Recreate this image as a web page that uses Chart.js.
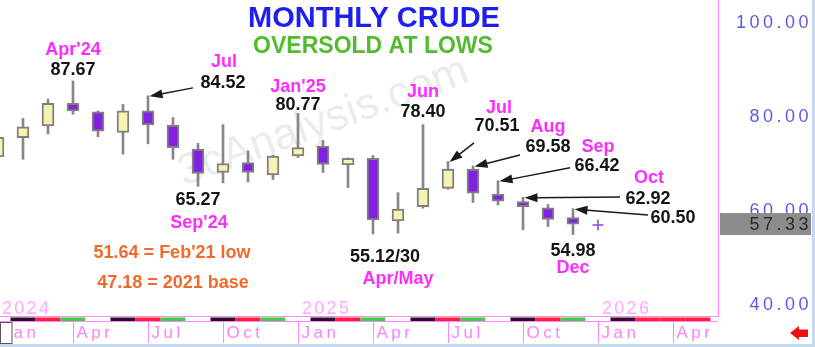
<!DOCTYPE html>
<html>
<head>
<meta charset="utf-8">
<script src="https://cdn.jsdelivr.net/npm/chart.js@4.4.1/dist/chart.umd.min.js"></script>
<style>
  html, body { margin: 0; padding: 0; background: #fff; }
</style>
</head>
<body>
<canvas id="crudeChart" width="815" height="347"></canvas>
<script>
// monthly candles, index 0 = Jan'24
const months = ["Jan'24","Feb'24","Mar'24","Apr'24","May'24","Jun'24","Jul'24","Aug'24","Sep'24","Oct'24","Nov'24","Dec'24",
                "Jan'25","Feb'25","Mar'25","Apr'25","May'25","Jun'25","Jul'25","Aug'25","Sep'25","Oct'25","Nov'25","Dec'25"];
const opens  = [71.5, 75.6, 78.1, 82.9, 81.1, 76.7, 81.3, 78.3, 73.2, 68.2, 70.3, 67.7,
                71.7, 73.8, 69.8, 71.2, 57.9, 60.9, 64.8, 68.9, 63.6, 62.0, 60.7, 58.6];
const highs  = [79.3, 79.7, 83.8, 87.67, 81.3, 82.7, 84.52, 79.9, 74.4, 78.4, 72.8, 71.9,
                80.77, 75.0, 71.3, 71.8, 63.9, 78.40, 70.51, 69.58, 66.42, 62.92, 61.4, 60.50];
const lows   = [69.3, 71.0, 76.4, 80.6, 75.8, 72.1, 74.3, 71.0, 65.27, 66.0, 66.2, 66.7,
                71.4, 68.2, 65.0, 55.12, 55.30, 60.6, 64.6, 61.8, 61.3, 56.0, 56.7, 54.98];
const closes = [75.7, 77.9, 82.9, 81.3, 77.0, 81.3, 78.3, 73.5, 68.0, 70.1, 68.2, 71.7,
                73.5, 69.9, 71.2, 58.1, 60.4, 64.8, 68.9, 63.8, 62.1, 60.9, 58.2, 57.2];
const lastPrice = 57.33;
const janMark = 57.0;   // Jan'26 so far
const yTicks = [40, 60, 80, 100];
const quarterNames = ['Jan', 'Apr', 'Jul', 'Oct'];
const yearNames = ['2024', '2025', '2026'];
// coloured band under the plot, one code per month (k black, r red, g green, w white)
const bandCodes = ['w','k','r','g','w','k','r','g','w','k','r','g','w','k','r','g','w','k','r','g','w','k','r','g','w','k','r','r','r'];

const PINK = '#ff2cff', INK = '#141414', ORANGE = '#f26a2a';
const notes = [
  { t: "Apr'24", m: 3, v: 93.2, c: PINK },
  { t: '87.67', m: 3, v: 88.9, c: INK },
  { t: 'Jul', m: 9.04, v: 90.7, c: PINK },
  { t: '84.52', m: 9.0, v: 86.2, c: INK },
  { t: '65.27', m: 8, v: 61.3, c: INK },
  { t: "Sep'24", m: 8.04, v: 56.4, c: PINK },
  { t: "Jan'25", m: 12, v: 85.3, c: PINK },
  { t: '80.77', m: 12, v: 81.5, c: INK },
  { t: 'Jun', m: 17, v: 84.3, c: PINK },
  { t: '78.40', m: 17, v: 80.0, c: INK },
  { t: 'Jul', m: 20.04, v: 80.9, c: PINK },
  { t: '70.51', m: 19.96, v: 77.0, c: INK },
  { t: 'Aug', m: 22, v: 76.8, c: PINK },
  { t: '69.58', m: 22, v: 72.6, c: INK },
  { t: 'Sep', m: 24, v: 72.6, c: PINK },
  { t: '66.42', m: 23.96, v: 68.5, c: INK },
  { t: 'Oct', m: 26.04, v: 66.0, c: PINK },
  { t: '62.92', m: 26, v: 61.5, c: INK },
  { t: '60.50', m: 27, v: 57.45, c: INK },
  { t: '54.98', m: 23, v: 50.4, c: INK },
  { t: 'Dec', m: 23, v: 46.8, c: PINK },
  { t: '55.12/30', m: 15.48, v: 49.15, c: INK },
  { t: 'Apr/May', m: 16, v: 44.5, c: PINK },
  { t: "51.64 = Feb'21 low", m: 6.96, v: 50.0, c: ORANGE },
  { t: '47.18 = 2021 base', m: 7.0, v: 43.6, c: ORANGE }
];
// arrows: start point (m, v) pointing to the high of month `to`
const arrows = [
  { m: 7.8, v: 86.2, to: 6 },
  { m: 19.04, v: 74.5, to: 18 },
  { m: 20.88, v: 71.9, to: 19 },
  { m: 22.88, v: 69.2, to: 20 },
  { m: 24.88, v: 63.0, to: 21 },
  { m: 26.0, v: 59.15, to: 23 }
];

const bodyColors = opens.map((o, i) => closes[i] >= o ? '#f7f3b0' : '#8420e6');

function drawArrow(ctx, x0, y0, x1, y1) {
  const ang = Math.atan2(y1 - y0, x1 - x0);
  const len = 13, wid = 4.5;
  ctx.beginPath();
  ctx.moveTo(x0, y0);
  ctx.lineTo(x1 - Math.cos(ang) * len * 0.8, y1 - Math.sin(ang) * len * 0.8);
  ctx.stroke();
  ctx.beginPath();
  ctx.moveTo(x1, y1);
  ctx.lineTo(x1 - Math.cos(ang) * len - Math.sin(ang) * wid, y1 - Math.sin(ang) * len + Math.cos(ang) * wid);
  ctx.lineTo(x1 - Math.cos(ang) * len + Math.sin(ang) * wid, y1 - Math.sin(ang) * len - Math.cos(ang) * wid);
  ctx.closePath();
  ctx.fill();
}

const decor = {
  id: 'decor',
  beforeDraw(chart) {
    const ctx = chart.ctx;
    ctx.save();
    ctx.fillStyle = '#fff';
    ctx.fillRect(0, 0, chart.width, chart.height);
    // watermark
    ctx.translate(184, 186);
    ctx.rotate(-20 * Math.PI / 180);
    ctx.fillStyle = '#ececec';
    ctx.font = '44px "Liberation Sans", Arial, sans-serif';
    ctx.fillText('3cAnalysis.com', 0, 0);
    ctx.restore();
    ctx.letterSpacing = '3.5px';
  },
  beforeDatasetsDraw(chart) {
    chart.ctx.letterSpacing = '0px';
  },
  afterDraw(chart) {
    const ctx = chart.ctx, a = chart.chartArea;
    const xs = chart.scales.x, ys = chart.scales.y;
    const px = m => xs.getPixelForValue(m), py = v => ys.getPixelForValue(v);
    ctx.save();

    // plot frame
    ctx.strokeStyle = '#ff88ff';
    ctx.lineWidth = 1;
    ctx.beginPath();
    ctx.moveTo(a.right + 0.5, 0); ctx.lineTo(a.right + 0.5, a.bottom + 1);
    ctx.moveTo(0, a.bottom + 0.5); ctx.lineTo(a.right + 1, a.bottom + 0.5);
    ctx.stroke();

    // coloured band
    const bandFill = { k: '#2a0f2a', r: '#ff1e3c', g: '#3cd23c', w: '#ffffff' };
    bandCodes.forEach((c, m) => {
      const x0 = Math.max(0, px(m - 0.5)), x1 = px(m + 0.5);
      ctx.fillStyle = bandFill[c];
      ctx.fillRect(x0, a.bottom + 1.5, x1 - x0, 3.5);
    });
    ctx.strokeStyle = '#ff88ff';
    ctx.beginPath();
    ctx.moveTo(0, a.bottom + 5.5); ctx.lineTo(a.right, a.bottom + 5.5);
    ctx.stroke();

    // quarter ticks and month names
    ctx.font = '17px "Liberation Sans", Arial, sans-serif';
    ctx.letterSpacing = '3.5px';
    ctx.textBaseline = 'alphabetic';
    ctx.textAlign = 'left';
    for (let m = 0; m <= 27; m += 3) {
      const x = Math.round(px(m)) + 0.5;
      ctx.strokeStyle = '#ff88ff';
      ctx.beginPath();
      ctx.moveTo(x, a.bottom + 6); ctx.lineTo(x, a.bottom + 27);
      ctx.stroke();
      ctx.fillStyle = '#ff80ff';
      ctx.fillText(quarterNames[(m / 3) % 4], x + 3, a.bottom + 22);
    }
    // small box at the left end
    ctx.fillStyle = '#fff';
    ctx.fillRect(0, a.bottom + 6, 12, 22);
    ctx.strokeStyle = '#555';
    ctx.strokeRect(0.5, a.bottom + 6.5, 11.5, 21);

    // year names
    ctx.font = '18px "Liberation Sans", Arial, sans-serif';
    ctx.letterSpacing = '2.3px';
    ctx.fillStyle = '#ffa8ff';
    yearNames.forEach((y, i) => ctx.fillText(y, px(i * 12) + 4, a.bottom - 2));
    ctx.letterSpacing = '0px';

    // titles
    ctx.textAlign = 'center';
    ctx.font = 'bold 29px "Liberation Sans", Arial, sans-serif';
    ctx.fillStyle = '#1e1ef0';
    ctx.fillText('MONTHLY CRUDE', 374, 27);
    ctx.font = 'bold 23px "Liberation Sans", Arial, sans-serif';
    ctx.fillStyle = '#52bc2c';
    ctx.fillText('OVERSOLD AT LOWS', 373, 53);

    // notes
    ctx.font = 'bold 18px "Liberation Sans", Arial, sans-serif';
    notes.forEach(n => {
      ctx.fillStyle = n.c;
      ctx.fillText(n.t, px(n.m), py(n.v));
    });

    // arrows
    ctx.strokeStyle = '#1a1a1a';
    ctx.fillStyle = '#1a1a1a';
    ctx.lineWidth = 1.5;
    arrows.forEach(r => drawArrow(ctx, px(r.m), py(r.v), px(r.to) + 1.5, py(highs[r.to]) + 0.5));

    // last price box
    const yl = py(lastPrice);
    ctx.fillStyle = '#8c8c8c';
    ctx.fillRect(a.right + 2, yl - 10.5, 811 - a.right - 2, 22);
    ctx.font = '18px "Liberation Sans", Arial, sans-serif';
    ctx.letterSpacing = '3.5px';
    ctx.textAlign = 'right';
    ctx.textBaseline = 'middle';
    ctx.fillStyle = '#2a2a2a';
    ctx.fillText(lastPrice.toFixed(2), 812, yl + 1);
    ctx.letterSpacing = '0px';

    // red arrow bottom right
    ctx.fillStyle = '#ee1111';
    ctx.beginPath();
    ctx.moveTo(790, 333);
    ctx.lineTo(799, 326);
    ctx.lineTo(799, 329.5);
    ctx.lineTo(808, 329.5);
    ctx.lineTo(808, 337);
    ctx.lineTo(799, 337);
    ctx.lineTo(799, 340);
    ctx.closePath();
    ctx.fill();

    // outer frame
    ctx.fillStyle = '#c6d8ee';
    ctx.fillRect(812, 0, 3, chart.height);
    ctx.fillRect(0, 344, chart.width, 3);
    ctx.restore();
  }
};

new Chart(document.getElementById('crudeChart'), {
  type: 'bar',
  data: {
    datasets: [
      {
        label: 'body',
        data: months.map((m, i) => ({ x: i, y: [opens[i], closes[i]] })),
        backgroundColor: bodyColors,
        borderColor: '#808080',
        borderWidth: 2,
        borderSkipped: false,
        barThickness: 12,
        grouped: false,
        order: 0
      },
      {
        label: 'wick',
        data: months.map((m, i) => ({ x: i, y: [lows[i], highs[i]] })),
        backgroundColor: '#878787',
        borderWidth: 0,
        barThickness: 2,
        grouped: false,
        order: 1
      },
      {
        type: 'line',
        label: 'jan',
        data: [{ x: months.length, y: janMark }],
        showLine: false,
        pointStyle: 'cross',
        pointRadius: 5.5,
        borderColor: '#9442e0',
        borderWidth: 1.5,
        order: 0
      }
    ]
  },
  options: {
    responsive: false,
    animation: false,
    devicePixelRatio: 1,
    layout: { autoPadding: false, padding: { left: 0, top: 0, right: 3, bottom: 31 } },
    scales: {
      x: {
        type: 'linear',
        min: 0.08,
        max: 28.8,
        offset: false,
        display: false
      },
      y: {
        position: 'right',
        min: 37.66,
        max: 104.894,
        afterBuildTicks: s => { s.ticks = yTicks.map(v => ({ value: v })); },
        afterFit: s => { s.width = 94; s.paddingTop = 0; s.paddingBottom = 0; },
        grid: { display: false },
        border: { display: false },
        ticks: {
          callback: v => Number(v).toFixed(2),
          color: '#5a5ae6',
          font: { family: '"Liberation Sans", Arial, sans-serif', size: 18 },
          crossAlign: 'far',
          padding: 0
        }
      }
    },
    plugins: {
      legend: { display: false },
      tooltip: { enabled: false }
    }
  },
  plugins: [decor]
});
</script>
</body>
</html>
